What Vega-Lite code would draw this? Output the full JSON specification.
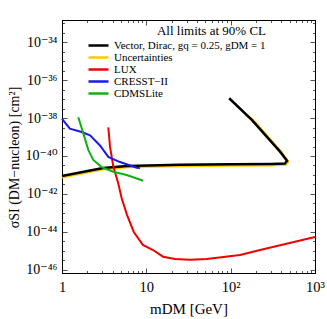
{
  "$schema": "https://vega.github.io/schema/vega-lite/v6.json",
  "width": 253,
  "height": 253,
  "autosize": "none",
  "padding": {"left": 62, "top": 20, "right": 12, "bottom": 46},
  "background": "white",
  "config": {
    "font": "Liberation Serif, DejaVu Serif, serif",
    "view": {"stroke": "black", "strokeWidth": 1},
    "axis": {"grid": false, "domainColor": "black", "tickColor": "#555", "labelColor": "black", "titleColor": "black", "labelFont": "Liberation Serif, DejaVu Serif, serif", "titleFont": "Liberation Serif, DejaVu Serif, serif", "titleFontWeight": "normal"},
    "legend": {"labelFont": "Liberation Serif, DejaVu Serif, serif", "titleFont": "Liberation Serif, DejaVu Serif, serif"}
  },
  "data": {"values": [
    {"series": "Uncertainties", "i": 0, "m": 1, "s": 7.6e-42},
    {"series": "Uncertainties", "i": 1, "m": 3.06, "s": 2.0e-41},
    {"series": "Uncertainties", "i": 2, "m": 5.9, "s": 2.6e-41},
    {"series": "Uncertainties", "i": 3, "m": 25, "s": 3.0e-41},
    {"series": "Uncertainties", "i": 4, "m": 100, "s": 3.16e-41},
    {"series": "Uncertainties", "i": 5, "m": 300, "s": 3.3e-41},
    {"series": "Uncertainties", "i": 6, "m": 450, "s": 3.55e-41},
    {"series": "Uncertainties", "i": 7, "m": 480, "s": 5.0e-41},
    {"series": "Uncertainties", "i": 8, "m": 400, "s": 1.58e-40},
    {"series": "Uncertainties", "i": 9, "m": 185, "s": 7.6e-39},
    {"series": "Uncertainties", "i": 10, "m": 150, "s": 1.58e-38},
    {"series": "Vector, Dirac, gq = 0.25, gDM = 1", "i": 0, "m": 1, "s": 8.9e-42},
    {"series": "Vector, Dirac, gq = 0.25, gDM = 1", "i": 1, "m": 3.06, "s": 2.34e-41},
    {"series": "Vector, Dirac, gq = 0.25, gDM = 1", "i": 2, "m": 5.9, "s": 2.95e-41},
    {"series": "Vector, Dirac, gq = 0.25, gDM = 1", "i": 3, "m": 25, "s": 3.47e-41},
    {"series": "Vector, Dirac, gq = 0.25, gDM = 1", "i": 4, "m": 100, "s": 3.63e-41},
    {"series": "Vector, Dirac, gq = 0.25, gDM = 1", "i": 5, "m": 300, "s": 3.8e-41},
    {"series": "Vector, Dirac, gq = 0.25, gDM = 1", "i": 6, "m": 440, "s": 3.98e-41},
    {"series": "Vector, Dirac, gq = 0.25, gDM = 1", "i": 7, "m": 466, "s": 5.6e-41},
    {"series": "Vector, Dirac, gq = 0.25, gDM = 1", "i": 8, "m": 385, "s": 1.7e-40},
    {"series": "Vector, Dirac, gq = 0.25, gDM = 1", "i": 9, "m": 178, "s": 7.9e-39},
    {"series": "Vector, Dirac, gq = 0.25, gDM = 1", "i": 10, "m": 96, "s": 1.1e-37},
    {"series": "LUX", "i": 0, "m": 3.54, "s": 3.2e-39},
    {"series": "LUX", "i": 1, "m": 3.71, "s": 3.1e-40},
    {"series": "LUX", "i": 2, "m": 4.06, "s": 2.75e-41},
    {"series": "LUX", "i": 3, "m": 4.65, "s": 3.6e-42},
    {"series": "LUX", "i": 4, "m": 5.1, "s": 5.9e-43},
    {"series": "LUX", "i": 5, "m": 5.9, "s": 7.9e-44},
    {"series": "LUX", "i": 6, "m": 7.1, "s": 1.0e-44},
    {"series": "LUX", "i": 7, "m": 9.1, "s": 2.1e-45},
    {"series": "LUX", "i": 8, "m": 12, "s": 1.12e-45},
    {"series": "LUX", "i": 9, "m": 15.8, "s": 5.0e-46},
    {"series": "LUX", "i": 10, "m": 21.9, "s": 3.8e-46},
    {"series": "LUX", "i": 11, "m": 33, "s": 3.4e-46},
    {"series": "LUX", "i": 12, "m": 52, "s": 3.8e-46},
    {"series": "LUX", "i": 13, "m": 129, "s": 6.2e-46},
    {"series": "LUX", "i": 14, "m": 223, "s": 1.12e-45},
    {"series": "LUX", "i": 15, "m": 1000, "s": 5.5e-45},
    {"series": "CRESST−II", "i": 0, "m": 1, "s": 8.9e-39},
    {"series": "CRESST−II", "i": 1, "m": 1.24, "s": 2.75e-39},
    {"series": "CRESST−II", "i": 2, "m": 1.71, "s": 1.82e-39},
    {"series": "CRESST−II", "i": 3, "m": 2.15, "s": 1.23e-39},
    {"series": "CRESST−II", "i": 4, "m": 2.82, "s": 3.6e-40},
    {"series": "CRESST−II", "i": 5, "m": 3.54, "s": 8.9e-41},
    {"series": "CRESST−II", "i": 6, "m": 4.87, "s": 4.8e-41},
    {"series": "CRESST−II", "i": 7, "m": 7.7, "s": 2.4e-41},
    {"series": "CRESST−II", "i": 8, "m": 8.4, "s": 2.3e-41},
    {"series": "CDMSLite", "i": 0, "m": 1.56, "s": 1.1e-38},
    {"series": "CDMSLite", "i": 1, "m": 1.79, "s": 1.55e-39},
    {"series": "CDMSLite", "i": 2, "m": 2.05, "s": 2.1e-40},
    {"series": "CDMSLite", "i": 3, "m": 2.35, "s": 6.2e-41},
    {"series": "CDMSLite", "i": 4, "m": 2.95, "s": 2.6e-41},
    {"series": "CDMSLite", "i": 5, "m": 4.06, "s": 1.48e-41},
    {"series": "CDMSLite", "i": 6, "m": 5.85, "s": 1.0e-41},
    {"series": "CDMSLite", "i": 7, "m": 9.2, "s": 5.0e-42}
  ]},
  "encoding": {
    "x": {"field": "m", "type": "quantitative", "scale": {"type": "log", "domain": [1, 1000], "nice": false}},
    "y": {"field": "s", "type": "quantitative", "scale": {"type": "log", "domain": [6.92e-47, 1.445e-33], "nice": false}},
    "order": {"field": "i", "type": "quantitative"},
    "color": {"field": "series", "type": "nominal",
      "scale": {"domain": ["Vector, Dirac, gq = 0.25, gDM = 1", "Uncertainties", "LUX", "CRESST−II", "CDMSLite"],
                "range": ["#000000", "#FFC800", "#F00000", "#1818F0", "#10B010"]},
      "legend": {"orient": "none", "legendX": 30, "legendY": 5, "title": "All limits at 90% CL", "titleAnchor": "end", "titleFontSize": 13, "titleFontWeight": "normal", "titlePadding": 1,
        "labelFontSize": 11, "symbolType": "M-2,0H2", "symbolStrokeWidth": 2.5, "symbolSize": 100, "rowPadding": -1, "labelOffset": 9}
    }
  },
  "resolve": {"axis": {"x": "independent", "y": "independent"}},
  "layer": [
    {
      "transform": [{"filter": "datum.series == 'Uncertainties'"}],
      "mark": {"type": "line", "strokeWidth": 2.5},
      "encoding": {
        "x": {"field": "m", "type": "quantitative", "title": "mDM    [GeV]",
          "axis": {"orient": "bottom", "values": [1, 10, 100, 1000], "tickSize": -5, "labelPadding": 12, "labelFontSize": 14.5,
            "labelExpr": "datum.value == 1 ? '1' : datum.value == 10 ? '10' : datum.value == 100 ? '10²' : '10³'", "titleFontSize": 15, "titlePadding": 8, "labelFlush": false}},
        "y": {"field": "s", "type": "quantitative", "title": "σSI (DM−nucleon)  [cm²]",
          "axis": {"orient": "left", "values": [1e-46, 1e-44, 1e-42, 1e-40, 1e-38, 1e-36, 1e-34], "tickSize": -5, "labelPadding": 10, "labelFontSize": 14,
            "labelExpr": "{'-34':'10⁻³⁴','-36':'10⁻³⁶','-38':'10⁻³⁸','-40':'10⁻⁴⁰','-42':'10⁻⁴²','-44':'10⁻⁴⁴','-46':'10⁻⁴⁶'}[''+round(log(datum.value)/LN10)]", "titleFontSize": 14, "titlePadding": 4, "titleY": 137}}
      }
    },
    {
      "transform": [{"filter": "datum.series == 'Vector, Dirac, gq = 0.25, gDM = 1'"}],
      "mark": {"type": "line", "strokeWidth": 2.5},
      "encoding": {
        "x": {"field": "m", "type": "quantitative", "axis": {"orient": "bottom", "values": [2,3,4,5,6,7,8,9,20,30,40,50,60,70,80,90,200,300,400,500,600,700,800,900], "tickSize": -2.5, "labels": false, "title": null}},
        "y": {"field": "s", "type": "quantitative", "axis": {"orient": "left", "values": [3.162e-46,1e-45,3.162e-45,3.162e-44,1e-43,3.162e-43,3.162e-42,1e-41,3.162e-41,3.162e-40,1e-39,3.162e-39,3.162e-38,1e-37,3.162e-37,3.162e-36,1e-35,3.162e-35,3.162e-34,1e-33], "tickSize": -2.5, "labels": false, "title": null}}
      }
    },
    {
      "transform": [{"filter": "datum.series == 'LUX'"}],
      "mark": {"type": "line", "strokeWidth": 2},
      "encoding": {
        "x": {"field": "m", "type": "quantitative", "axis": {"orient": "top", "values": [1, 10, 100, 1000], "tickSize": -5, "labels": false, "title": null}},
        "y": {"field": "s", "type": "quantitative", "axis": {"orient": "right", "values": [1e-46, 1e-44, 1e-42, 1e-40, 1e-38, 1e-36, 1e-34], "tickSize": -5, "labels": false, "title": null}}
      }
    },
    {
      "transform": [{"filter": "datum.series == 'CRESST−II'"}],
      "mark": {"type": "line", "strokeWidth": 2},
      "encoding": {
        "x": {"field": "m", "type": "quantitative", "axis": {"orient": "top", "values": [2,3,4,5,6,7,8,9,20,30,40,50,60,70,80,90,200,300,400,500,600,700,800,900], "tickSize": -2.5, "labels": false, "title": null}},
        "y": {"field": "s", "type": "quantitative", "axis": {"orient": "right", "values": [3.162e-46,1e-45,3.162e-45,3.162e-44,1e-43,3.162e-43,3.162e-42,1e-41,3.162e-41,3.162e-40,1e-39,3.162e-39,3.162e-38,1e-37,3.162e-37,3.162e-36,1e-35,3.162e-35,3.162e-34,1e-33], "tickSize": -2.5, "labels": false, "title": null}}
      }
    },
    {
      "transform": [{"filter": "datum.series == 'CDMSLite'"}],
      "mark": {"type": "line", "strokeWidth": 2},
      "encoding": {
        "x": {"field": "m", "type": "quantitative", "axis": null},
        "y": {"field": "s", "type": "quantitative", "axis": null}
      }
    }
  ]
}
